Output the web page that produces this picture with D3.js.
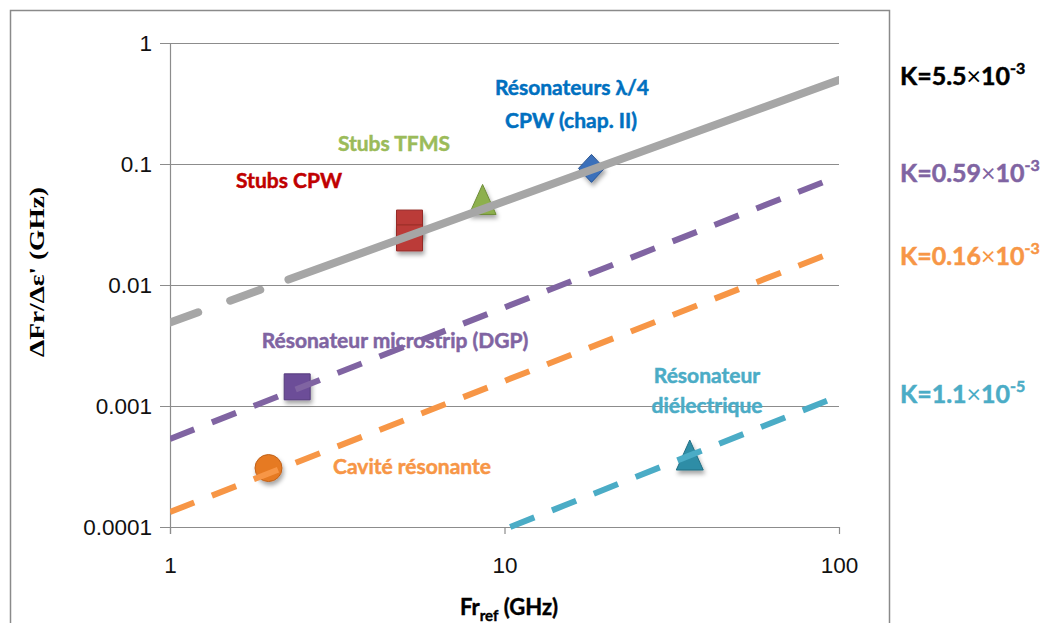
<!DOCTYPE html>
<html><head><meta charset="utf-8">
<script src="https://cdn.jsdelivr.net/npm/d3@7"></script>
<style>body{margin:0;background:#fff}svg{display:block}</style>
</head><body>
<svg id="chart" width="1048" height="623"></svg>
<script>
// ---------------- data ----------------
const xTickValues = [1, 10, 100];
const xTickLabels = ["1", "10", "100"];
const yTickValues = [0.0001, 0.001, 0.01, 0.1, 1];
const yTickLabels = ["0.0001", "0.001", "0.01", "0.1", "1"];

const categories = ["Résonateurs λ/4 CPW (chap. II)", "Stubs TFMS", "Stubs CPW",
  "Résonateur microstrip (DGP)", "Cavité résonante", "Résonateur diélectrique"];
const pointCategory = [0, 1, 2, 2, 3, 4, 5];
const pointFreq  = [18.2, 8.6, 5.2, 5.2, 2.4, 1.97, 35.8];
const pointValue = [0.092, 0.050, 0.0325, 0.0245, 0.00144, 0.000307, 0.000386];

const kMantissa = ["5.5", "0.59", "0.16", "1.1"];
const kExponent = ["-3", "-3", "-3", "-5"];
const trendFreq  = [[1, 100], [1, 100], [1, 100], [10.4, 100]];
const trendValue = [[0.0049, 0.494], [0.000535, 0.0796], [0.000133, 0.0195], [0.0001, 0.00121]];

// ---------------- styles / layout ----------------
const catColor  = ["#0070C0", "#9BBB59", "#C00000", "#8064A2", "#F79646", "#4BACC6"];
const markFill  = ["#3B6FBA", "#8DB04E", "#BB3B37", "#6C4D98", "#E67A22", "#2F8DA6"];
const markEdge  = ["#2A5590", "#6E8C37", "#952A27", "#553A7C", "#C0611A", "#236F84"];
const markShape = ["diamond", "triangle", "square", "square", "square", "circle", "triangle"];
const trendColor = ["#A6A6A6", "#8064A2", "#F79646", "#4BACC6"];
const kColor = ["#000000", "#8064A2", "#F79646", "#4BACC6"];
const kBaseline = [85, 182, 265, 403];

const annotations = [
  {t: "Résonateurs λ/4", c: 0, x: 572, y: 95},
  {t: "CPW (chap. II)", c: 0, x: 571, y: 128},
  {t: "Stubs TFMS", c: 1, x: 394, y: 151},
  {t: "Stubs CPW", c: 2, x: 289, y: 188},
  {t: "Résonateur microstrip (DGP)", c: 3, x: 395, y: 348},
  {t: "Cavité résonante", c: 4, x: 412, y: 474},
  {t: "Résonateur", c: 5, x: 707, y: 383},
  {t: "diélectrique", c: 5, x: 707, y: 413}
];

const L = 170, R = 839, T = 43, B = 527;
const svg = d3.select("#chart");
const labFont = "Lato, 'Open Sans', sans-serif";

const x = d3.scaleLog().domain([1, 100]).range([L, R]);
const y = d3.scaleLog().domain([0.0001, 1]).range([B, T]);

// frame
svg.append("rect").attr("x", 10.5).attr("y", 10.5).attr("width", 879).attr("height", 700)
  .attr("fill", "none").attr("stroke", "#8a8a8a").attr("stroke-width", 1.5);

const defs = svg.append("defs");
const f = defs.append("filter").attr("id", "sh").attr("x", "-50%").attr("y", "-50%").attr("width", "200%").attr("height", "200%");
f.append("feDropShadow").attr("dx", 1.5).attr("dy", 3.5).attr("stdDeviation", 2)
  .attr("flood-color", "#000").attr("flood-opacity", 0.35);
defs.append("clipPath").attr("id", "plotclip").append("rect")
  .attr("x", L).attr("y", 0).attr("width", R - L).attr("height", 623);

// y axis with gridlines
const yAxis = svg.append("g").attr("transform", `translate(${L},0)`)
  .call(d3.axisLeft(y).tickValues(yTickValues).tickSize(10).tickPadding(8)
    .tickFormat((d, i) => yTickLabels[i]));
yAxis.select(".domain").remove();
yAxis.selectAll(".tick line").attr("x2", R - L).attr("x1", -10).attr("stroke", "#8c8c8c").attr("stroke-width", 1.2);
yAxis.selectAll(".tick text").attr("font-family", "'Liberation Sans', Arial, sans-serif")
  .attr("font-size", 22.5).attr("fill", "#111");

// x axis
const xAxis = svg.append("g").attr("transform", `translate(0,${B})`)
  .call(d3.axisBottom(x).tickValues(xTickValues).tickSize(7).tickPadding(23)
    .tickFormat((d, i) => xTickLabels[i]));
xAxis.select(".domain").remove();
xAxis.selectAll(".tick line").attr("stroke", "#8c8c8c").attr("stroke-width", 1.2);
xAxis.selectAll(".tick text").attr("font-family", "'Liberation Sans', Arial, sans-serif")
  .attr("font-size", 22.5).attr("fill", "#111");
// vertical axis line
svg.append("line").attr("x1", L + 0.5).attr("x2", L + 0.5).attr("y1", T).attr("y2", B + 7)
  .attr("stroke", "#8c8c8c").attr("stroke-width", 1.2);

// markers
function shapePath(s) {
  if (s === "square") return "M-13,-13H13V13H-13Z";
  if (s === "triangle") return "M0,-16L13.5,14H-13.5Z";
  if (s === "diamond") return "M0,-14L13,0L0,14L-13,0Z";
  return d3.symbol().type(d3.symbolCircle).size(Math.PI * 13.5 * 13.5)();
}
svg.append("g").selectAll("path").data(pointFreq).join("path")
  .attr("transform", (d, i) => `translate(${x(d)},${y(pointValue[i])})`)
  .attr("d", (d, i) => shapePath(markShape[i]))
  .attr("fill", (d, i) => markFill[pointCategory[i]])
  .attr("stroke", (d, i) => markEdge[pointCategory[i]])
  .attr("stroke-width", 1)
  .attr("filter", "url(#sh)");

// trend lines
const line = d3.line().x(d => x(d[0])).y(d => y(d[1]));
const tg = svg.append("g").attr("clip-path", "url(#plotclip)");
trendFreq.forEach((fr, k) => {
  const pts = fr.map((v, j) => [v, trendValue[k][j]]);
  const p = tg.append("path").attr("d", line(pts)).attr("fill", "none")
    .attr("stroke", trendColor[k]);
  if (k === 0) {
    p.attr("stroke-width", 8).attr("stroke-linecap", "round")
      .attr("stroke-dasharray", "30,34,32,30,3000");
  } else {
    p.attr("stroke-width", 6).attr("stroke-dasharray", "26,19");
  }
});

// annotations
svg.append("g").selectAll("text").data(annotations).join("text")
  .attr("x", d => d.x).attr("y", d => d.y).attr("text-anchor", "middle")
  .attr("font-family", labFont).attr("font-weight", 700).attr("font-size", 21)
  .attr("fill", d => catColor[d.c]).attr("stroke", d => catColor[d.c]).attr("stroke-width", 0.5)
  .text(d => d.t);

// K labels
kMantissa.forEach((m, i) => {
  const t = svg.append("text").attr("x", 900).attr("y", kBaseline[i])
    .attr("font-family", labFont).attr("font-weight", 700).attr("font-size", 25)
    .attr("fill", kColor[i]).attr("stroke", kColor[i]).attr("stroke-width", 0.5);
  t.append("tspan").text("K=" + m);
  t.append("tspan").attr("font-weight", 400).attr("stroke-width", 0).text("×");
  t.append("tspan").text("10");
  t.append("tspan").attr("font-size", 16).attr("dy", -11).text(kExponent[i]);
});

// axis titles
const xt = svg.append("text").attr("x", 509).attr("y", 615).attr("text-anchor", "middle")
  .attr("font-family", labFont).attr("font-weight", 700).attr("font-size", 22)
  .attr("fill", "#000").attr("stroke", "#000").attr("stroke-width", 0.4);
xt.append("tspan").text("Fr");
xt.append("tspan").attr("font-size", 15).attr("dy", 6).text("ref");
xt.append("tspan").attr("dy", -6).text(" (GHz)");

svg.append("text").attr("transform", "translate(44,272) rotate(-90)").attr("text-anchor", "middle")
  .attr("font-family", "'Liberation Serif', 'Times New Roman', serif").attr("font-weight", 700)
  .attr("font-size", 22).attr("textLength", 170).attr("lengthAdjust", "spacingAndGlyphs")
  .attr("fill", "#000").text("ΔFr/Δε' (GHz)");
</script>
</body></html>
